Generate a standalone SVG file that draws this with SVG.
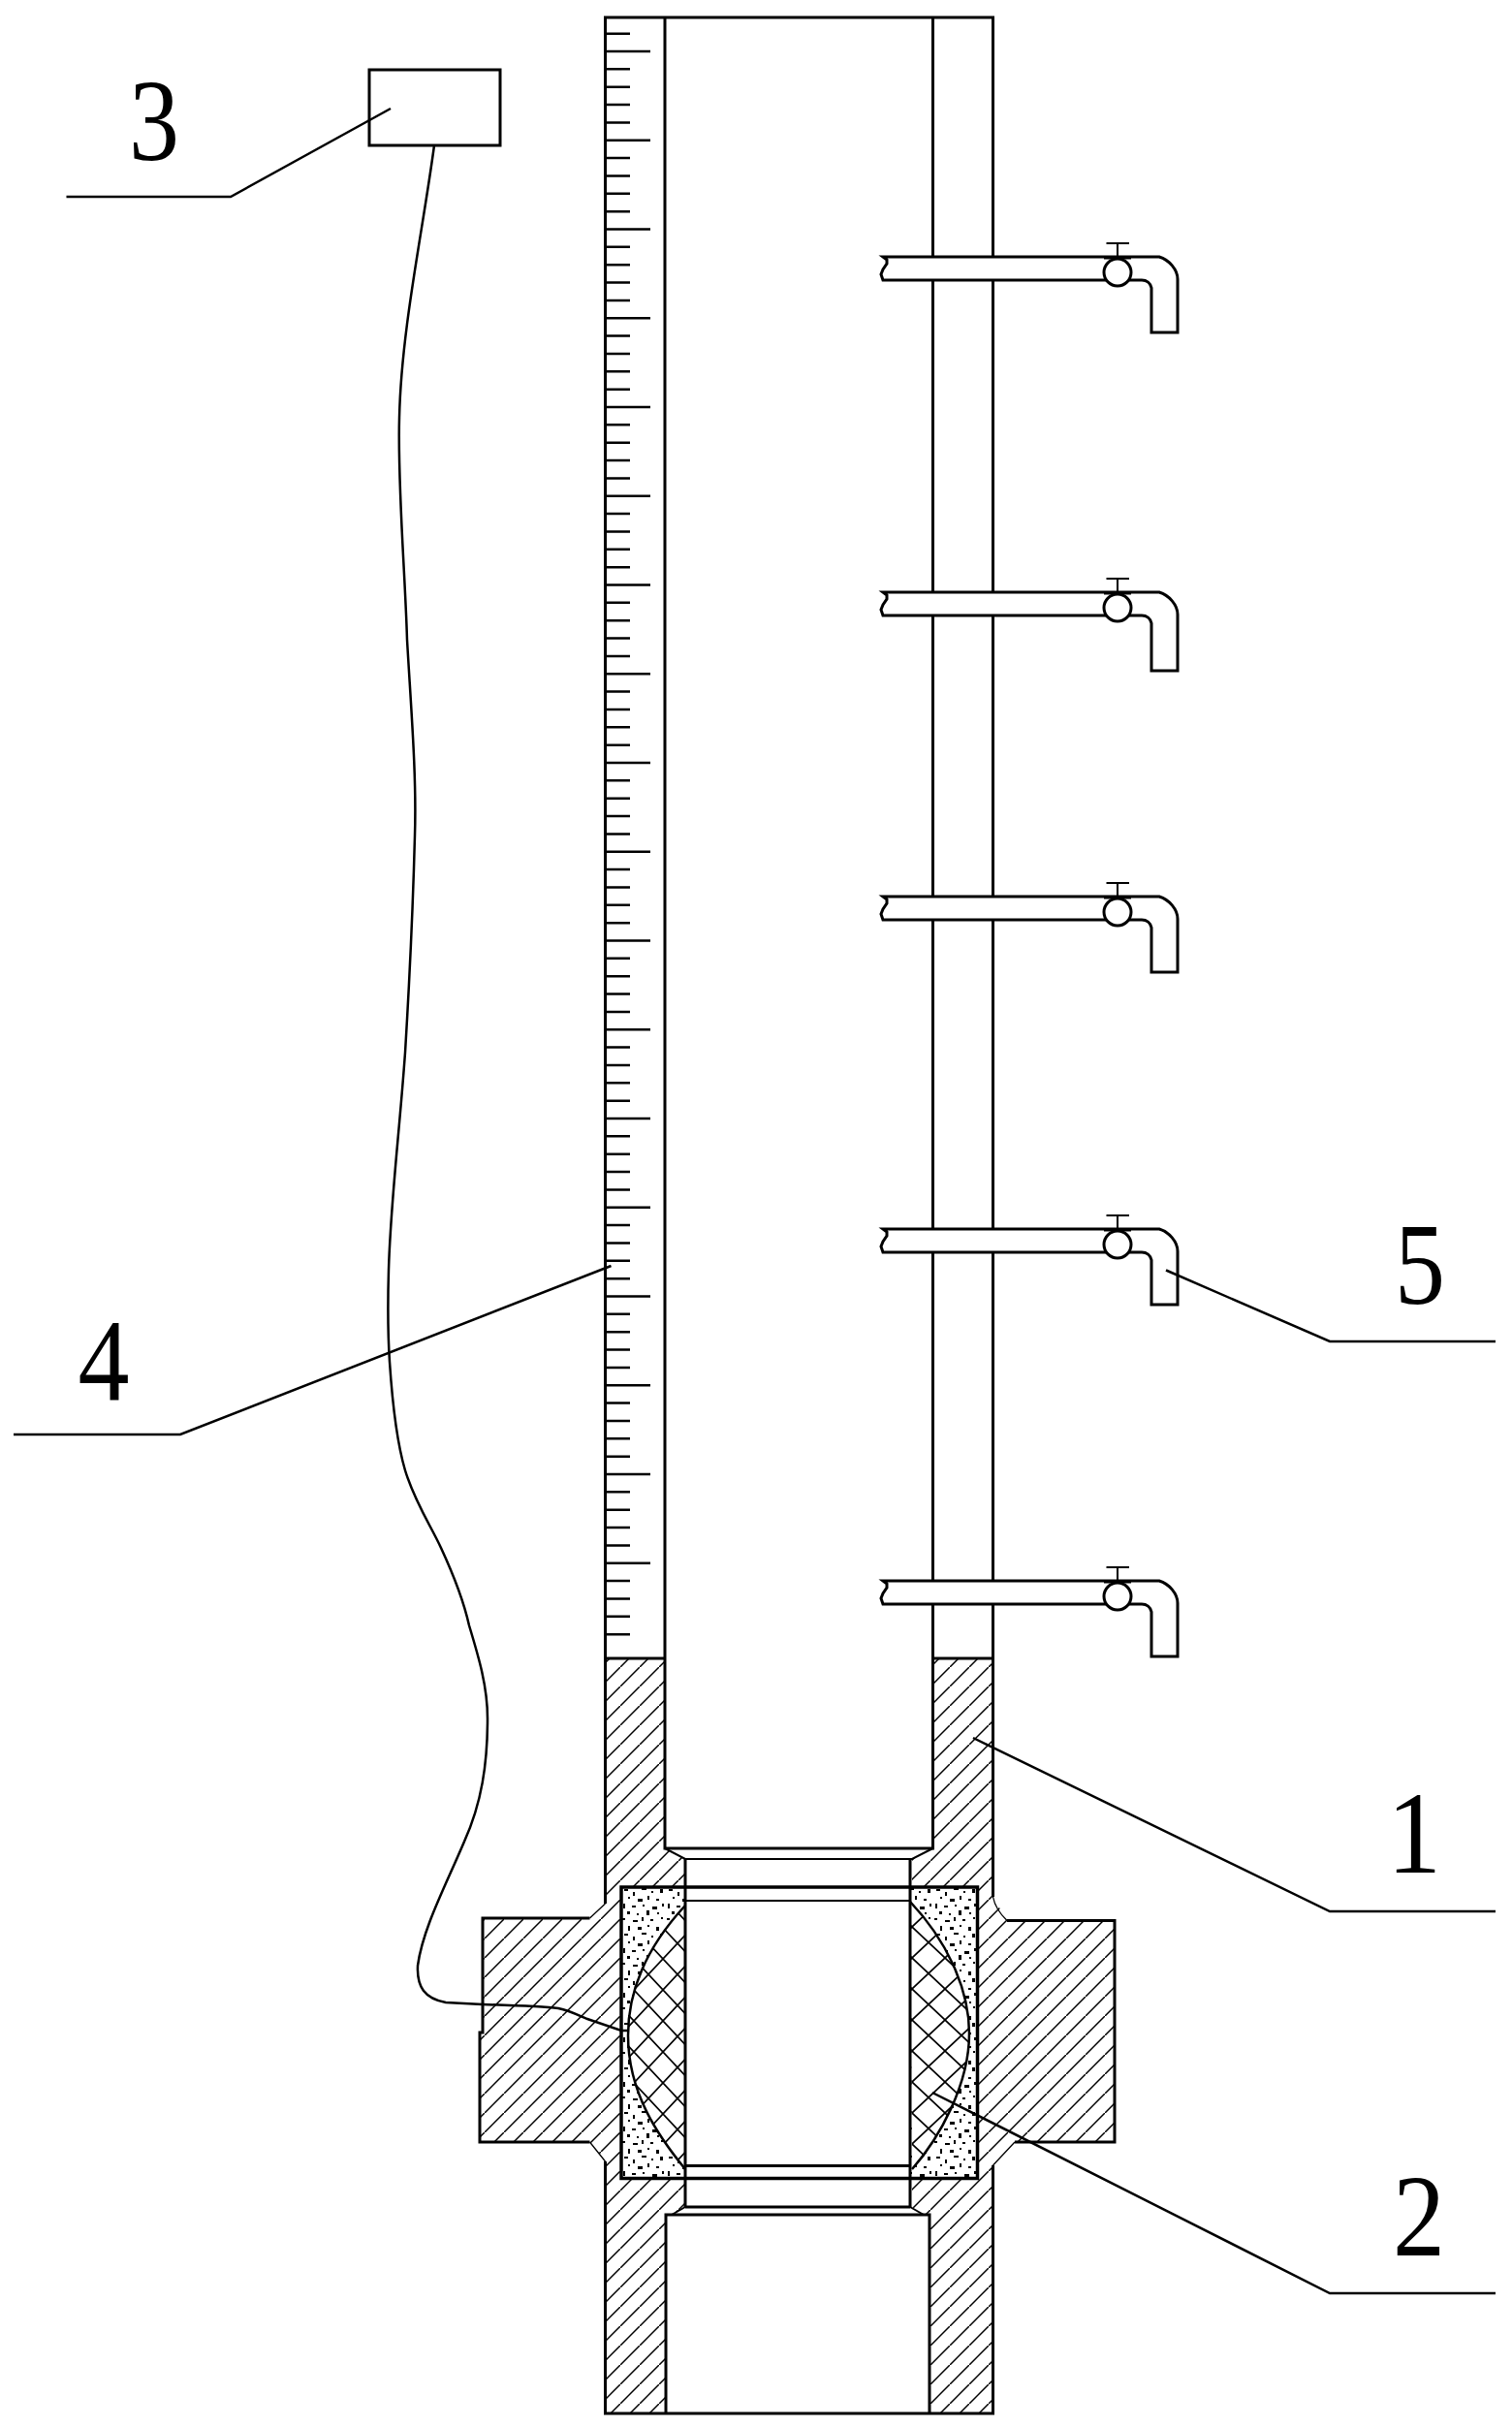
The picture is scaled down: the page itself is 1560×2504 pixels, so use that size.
<svg xmlns="http://www.w3.org/2000/svg" xmlns:xlink="http://www.w3.org/1999/xlink" width="1560" height="2504" viewBox="0 0 1560 2504">
<style>
.l{fill:none;stroke:#000;stroke-width:3}
.t{fill:none;stroke:#000;stroke-width:2}
.c{fill:none;stroke:#000;stroke-width:1.300}
.lead{fill:none;stroke:#000;stroke-width:2.500}
.lbl{font-family:"Liberation Serif",serif;font-size:120px;fill:#000;text-anchor:middle}
.tap{fill:#fff;stroke:#000;stroke-width:3}
</style>
<defs>
<pattern id="hatch" patternUnits="userSpaceOnUse" x="0" y="0" width="20" height="20">
<path d="M-2 22L22 -2" stroke="#000" stroke-width="1.500" fill="none"/>
</pattern>
<pattern id="crossL" patternUnits="userSpaceOnUse" x="669" y="2101" width="30" height="32">
<path d="M0 0L30 32M30 0L0 32" stroke="#000" stroke-width="1.700" fill="none"/>
</pattern>
<pattern id="crossR" patternUnits="userSpaceOnUse" x="941" y="2052" width="34" height="32">
<path d="M0 0L34 32M34 0L0 32" stroke="#000" stroke-width="1.700" fill="none"/>
</pattern>
<pattern id="stip" patternUnits="userSpaceOnUse" x="641" y="1947" width="46" height="46">
<path fill="#000" d="M3 2h4v2h-4zM12 5h2v4h-2zM21 1h5v2h-5zM31 4h2v2h-2zM40 2h3v4h-3zM7 10h2v2h-2zM17 12h5v3h-5zM27 9h2v4h-2zM36 12h3v2h-3zM2 17h2v5h-2zM11 19h4v2h-4zM22 18h2v2h-2zM32 20h5v3h-5zM42 17h2v3h-2zM6 25h3v3h-3zM16 27h2v2h-2zM26 24h3v5h-3zM37 26h2v2h-2zM1 32h3v2h-3zM12 34h5v2h-5zM21 31h2v4h-2zM30 33h3v2h-3zM41 31h2v2h-2zM7 40h2v5h-2zM17 41h4v3h-4zM27 39h2v2h-2zM36 41h3v4h-3z"/>
</pattern>
<g id="valve">
<path class="t" d="M1153 265V251M1141.500 251H1165"/>
<circle cx="1153" cy="281" r="14" fill="#fff" stroke="#000" stroke-width="3"/>
<path d="M1139 266H1167" stroke="#000" stroke-width="3"/>
</g>
<path id="tapShape" class="tap" d="M911 265H1196C1206 268 1215 278 1215 288V343H1188V297C1187 292 1183 289 1178 289H911L909 283L911 278L915 272V268Z"/>
</defs>
<rect width="1560" height="2504" fill="#fff"/>

<g id="column-1">
<path d="M624.500 1711H1024.500V1957L1039 1981.500H1150V2210H1047L1024.500 2234V2490H624.500V2230L608.500 2210H495V2097H498V1979H608.500L624.500 1964Z" fill="#fff"/>
<path d="M624.500 1711H1024.500V1957L1039 1981.500H1150V2210H1047L1024.500 2234V2490H624.500V2230L608.500 2210H495V2097H498V1979H608.500L624.500 1964Z" fill="url(#hatch)"/>
<path d="M687 1705H961V1907L941 1918V2277L953 2285H959V2490H687V2285H693L707 2277V1918L687 1907Z" fill="#fff"/>
<path class="l" d="M624.500 1964V18H1024.500V1957"/>
<path class="l" d="M624.500 2230V2490H1024.500V2234"/>
<path class="l" d="M1039 1981.500H1150V2210H1047"/>
<path class="l" d="M608.500 1979H498V2097H495V2210H608.500"/>
<path class="c" d="M608.500 1979L624.500 1964M1024.500 1957Q1027 1970 1039 1981.500M608.500 2210L624.500 2230M1047 2210L1024.500 2234"/>
<path class="l" d="M686 18V1907H962.500V18"/>
<path class="l" d="M624.500 1711H686M962.500 1711H1024.500"/>
<path class="t" d="M686 1907L707 1918H941L962.500 1907"/>
<path class="l" d="M687 2490V2285H959V2490"/>
<path class="t" d="M707 2277L693 2285M939 2277L953 2285"/>
</g>

<g id="scale-4">
<path class="lead" d="M624 34.650H650M624 53H671M624 71.350H650M624 89.700H650M624 108.050H650M624 126.400H650M624 144.750H671M624 163.100H650M624 181.450H650M624 199.800H650M624 218.150H650M624 236.500H671M624 254.850H650M624 273.200H650M624 291.550H650M624 309.900H650M624 328.250H671M624 346.600H650M624 364.950H650M624 383.300H650M624 401.650H650M624 420H671M624 438.350H650M624 456.700H650M624 475.050H650M624 493.400H650M624 511.750H671M624 530.100H650M624 548.450H650M624 566.800H650M624 585.150H650M624 603.500H671M624 621.850H650M624 640.200H650M624 658.550H650M624 676.900H650M624 695.250H671M624 713.600H650M624 731.950H650M624 750.300H650M624 768.650H650M624 787H671M624 805.350H650M624 823.700H650M624 842.050H650M624 860.400H650M624 878.750H671M624 897.100H650M624 915.450H650M624 933.800H650M624 952.150H650M624 970.500H671M624 988.850H650M624 1007.200H650M624 1025.550H650M624 1043.900H650M624 1062.250H671M624 1080.600H650M624 1098.950H650M624 1117.300H650M624 1135.650H650M624 1154H671M624 1172.350H650M624 1190.700H650M624 1209.050H650M624 1227.400H650M624 1245.750H671M624 1264.100H650M624 1282.450H650M624 1300.800H650M624 1319.150H650M624 1337.500H671M624 1355.850H650M624 1374.200H650M624 1392.550H650M624 1410.900H650M624 1429.250H671M624 1447.600H650M624 1465.950H650M624 1484.300H650M624 1502.650H650M624 1521H671M624 1539.350H650M624 1557.700H650M624 1576.050H650M624 1594.400H650M624 1612.750H671M624 1631.100H650M624 1649.450H650M624 1667.800H650M624 1686.150H650"/>
</g>

<g id="taps-5">
<g id="tap-a"><use href="#tapShape"/><use href="#valve"/></g>
<g id="tap-b" transform="translate(0 346)"><path class="tap" d="M911 265H1196C1206 268 1215 278 1215 288V346H1188V297C1187 292 1183 289 1178 289H911L909 283L911 278L915 272V268Z"/><use href="#valve"/></g>
<g id="tap-c" transform="translate(0 660)"><use href="#tapShape"/><use href="#valve"/></g>
<g id="tap-d" transform="translate(0 1003)"><use href="#tapShape"/><use href="#valve"/></g>
<g id="tap-e" transform="translate(0 1366)"><use href="#tapShape"/><use href="#valve"/></g>
</g>

<g id="sensor-2">
<rect x="641" y="1947" width="66" height="300.500" fill="#fff"/>
<rect x="939" y="1947" width="69" height="300.500" fill="#fff"/>
<rect x="641" y="1947" width="66" height="300.500" fill="url(#stip)"/>
<rect x="939" y="1947" width="69" height="300.500" fill="url(#stip)"/>
<path d="M707 1966C680 1995 648 2040 648 2100C648 2160 680 2205 707 2238Z" fill="#fff"/>
<path d="M707 1966C680 1995 648 2040 648 2100C648 2160 680 2205 707 2238Z" fill="url(#crossL)"/>
<path d="M939 1962C975 2000 1000 2050 1000 2098C1000 2150 970 2205 941 2238Z" fill="#fff"/>
<path d="M939 1962C975 2000 1000 2050 1000 2098C1000 2150 970 2205 941 2238Z" fill="url(#crossR)"/>
<path class="lead" d="M707 1966C680 1995 648 2040 648 2100C648 2160 680 2205 707 2238"/>
<path class="lead" d="M939 1962C975 2000 1000 2050 1000 2098C1000 2150 970 2205 941 2238"/>
<rect x="707" y="1947" width="232" height="300.500" fill="#fff"/>
<rect class="l" x="641" y="1947" width="367.500" height="300.500" style="stroke-width:3.500"/>
<path class="l" d="M707 1918V2277M939 1918V2277M707 2234.500H939M707 2277H939"/>
<path class="t" d="M707 1961H939"/>
</g>

<g id="box-3">
<rect class="l" x="381" y="72" width="135" height="78"/>
</g>

<g id="connectors">
<path class="lead" d="M448 150C436 240 414 340 412 431C410 500 418 590 420 660C424 730 430 800 428 862C426 940 422 1020 418 1086C412 1170 403 1240 401 1310C400 1345 400 1375 402 1405C405 1450 410 1490 418 1517C428 1550 445 1575 455 1597C468 1625 478 1650 484 1677C494 1710 503 1740 503 1773C503 1820 497 1860 479 1900C460 1945 436 1990 431 2028C430 2050 438 2062 460 2066L498 2068C530 2069 560 2070 576 2072C590 2075 600 2081 606 2083L641 2095H649"/>
<path class="lead" d="M68.500 203H238L403 112"/>
<path class="lead" d="M14 1480H186L630.500 1306"/>
<path class="lead" d="M1543 1384H1372L1203 1310.500"/>
<path class="lead" d="M1543 1972H1372L1004 1793"/>
<path class="lead" d="M1543 2366H1372L962 2159"/>
</g>

<g id="labels">
<text class="lbl" x="159" y="165" textLength="52" lengthAdjust="spacingAndGlyphs">3</text>
<text class="lbl" x="107" y="1444" textLength="53" lengthAdjust="spacingAndGlyphs">4</text>
<text class="lbl" x="1465" y="1345" textLength="52" lengthAdjust="spacingAndGlyphs">5</text>
<text class="lbl" x="1459" y="1932" textLength="56" lengthAdjust="spacingAndGlyphs">1</text>
<text class="lbl" x="1464" y="2327" textLength="54" lengthAdjust="spacingAndGlyphs">2</text>
</g>
</svg>
